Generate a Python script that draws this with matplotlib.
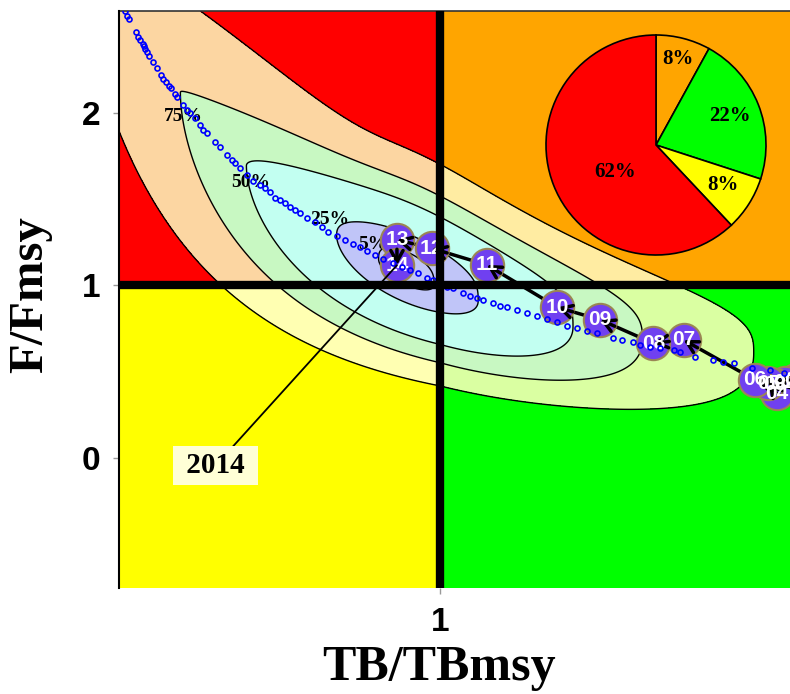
import numpy as np
import matplotlib
matplotlib.use('Agg')
import matplotlib.pyplot as plt
from matplotlib.patches import Rectangle

# ---------------- data ----------------
years = ['01', '02', '03', '04', '05', '06', '07', '08', '09', '10', '11', '12', '13', '14']
traj_b = [1.775, 1.752, 1.730, 1.734, 1.716, 1.687, 1.531, 1.465, 1.349, 1.256, 1.102, 0.982, 0.906, 0.906]
traj_f = [0.450, 0.435, 0.422, 0.374, 0.432, 0.451, 0.683, 0.664, 0.800, 0.872, 1.118, 1.214, 1.263, 1.116]

dots_b = [0.313, 0.317, 0.322, 0.337, 0.341, 0.346, 0.352, 0.355, 0.357, 0.360, 0.365, 0.374, 0.382,
          0.392, 0.396, 0.402, 0.408, 0.413, 0.422, 0.426, 0.440, 0.448, 0.455, 0.466, 0.477, 0.483,
          0.491, 0.509, 0.520, 0.535, 0.546, 0.553, 0.564, 0.579, 0.593, 0.608, 0.618, 0.629, 0.640,
          0.651, 0.662, 0.673, 0.684, 0.695, 0.709, 0.727, 0.742, 0.756, 0.775, 0.793, 0.811, 0.826,
          0.840, 0.858, 0.876, 0.898, 0.916, 0.935, 0.953, 0.971, 0.985, 1.015, 1.029, 1.051, 1.065,
          1.080, 1.094, 1.116, 1.131, 1.145, 1.167, 1.189, 1.211, 1.233, 1.254, 1.276, 1.298, 1.320,
          1.342, 1.378, 1.396, 1.421, 1.436, 1.458, 1.480, 1.509, 1.523, 1.556, 1.596, 1.618, 1.640,
          1.680, 1.720, 1.749]
dots_f = [2.588, 2.563, 2.542, 2.467, 2.438, 2.420, 2.399, 2.386, 2.370, 2.355, 2.328, 2.297, 2.262,
          2.217, 2.196, 2.181, 2.158, 2.142, 2.109, 2.092, 2.045, 2.016, 1.997, 1.968, 1.929, 1.900,
          1.881, 1.829, 1.804, 1.755, 1.726, 1.707, 1.678, 1.639, 1.605, 1.581, 1.562, 1.543, 1.508,
          1.494, 1.475, 1.456, 1.437, 1.417, 1.392, 1.365, 1.340, 1.311, 1.288, 1.263, 1.238, 1.219,
          1.199, 1.176, 1.152, 1.128, 1.108, 1.089, 1.070, 1.045, 1.031, 0.992, 0.983, 0.954, 0.938,
          0.929, 0.915, 0.896, 0.882, 0.874, 0.857, 0.838, 0.824, 0.805, 0.786, 0.766, 0.751, 0.735,
          0.722, 0.697, 0.683, 0.670, 0.654, 0.645, 0.635, 0.625, 0.612, 0.587, 0.567, 0.558, 0.548,
          0.523, 0.509, 0.490]

pie_values = [8, 22, 8, 62]
pie_labels = ['8%', '22%', '8%', '62%']

contour_labels = ['5%', '25%', '50%', '75%', '95%']
contour_radius = [0.20, 0.51, 1.177, 1.665, 2.448]

# uncertainty distribution of the final year (B/Bmsy, F/Fmsy)
b_mean, b_sd_left, b_sd_right = 0.925, 0.295, 0.31
lnf_coef = [1.556, -2.072, 0.505]        # centre line of ln(F/Fmsy) given B/Bmsy
up_scale, up_k, up_x0, up_w = 0.33, 2.6, 0.93, 0.06
up_shape, up_shape_gain, up_shape_x, up_shape_w = 0.6, 2.4, 0.85, 0.05
dn_scale, dn_k_left, dn_k_right, dn_shape = 0.355, 0.35, 0.75, 1.0

label_year = '2014'
x_ticks = [1]
y_ticks = [0, 1, 2]
xlim = (0.30, 1.763)
ylim = (-0.755, 2.59)


def softplus(v):
    return np.logaddexp(0, v)


# ---------------- figure ----------------
W, H = 790, 694
fig = plt.figure(figsize=(W / 100, H / 100), dpi=100)
ax = fig.add_axes([119 / W, 1 - 588 / H, 671 / W, 577 / H])
ax.set_xlim(*xlim)
ax.set_ylim(*ylim)

gx = np.linspace(xlim[0], xlim[1], 800)
gy = np.linspace(ylim[0], ylim[1], 800)
X, Y = np.meshgrid(gx, gy)
z = np.where(X < b_mean, (X - b_mean) / b_sd_left, (X - b_mean) / b_sd_right)
m = lnf_coef[0] + lnf_coef[1] * X + lnf_coef[2] * X ** 2
delta = np.log(np.clip(Y, 1e-3, None)) - m
s_up = up_scale * np.exp(-up_k * up_w * softplus((up_x0 - X) / up_w))
p_up = up_shape + up_shape_gain * up_shape_w * softplus((up_shape_x - X) / up_shape_w)
s_dn = dn_scale * np.exp(dn_k_left * np.minimum(X - 1.0, 0) + dn_k_right * np.maximum(X - 1.0, 0))
D = np.where(delta >= 0,
             (np.abs(delta) / s_up) ** (1 / p_up),
             (np.abs(delta) / s_dn) ** (1 / dn_shape))
dist = np.sqrt(z ** 2 + D ** 2)

lav, cyan, lgreen = '#C0C5F8', '#C2FFF1', '#C8F8C2'
quads = [
    ((xlim[0], 1, 1, ylim[1]), '#FF0000', '#FCD6A2'),
    ((1, xlim[1], 1, ylim[1]), '#FFA500', '#FFECA2'),
    ((xlim[0], 1, ylim[0], 1), '#FFFF00', '#FFFFB2'),
    ((1, xlim[1], ylim[0], 1), '#00FF00', '#DAFFA2'),
]
levels = [0] + contour_radius + [dist.max() + 1]
for (x0, x1, y0, y1), c_out, c_band in quads:
    cs = ax.contourf(X, Y, dist, levels=levels,
                     colors=[lav, lav, cyan, lgreen, c_band, c_out], zorder=1)
    rect = Rectangle((x0, y0), x1 - x0, y1 - y0, transform=ax.transData,
                     facecolor='none', edgecolor='none')
    cs.set_clip_path(rect)

cl = ax.contour(X, Y, dist, levels=contour_radius, colors='k', linewidths=1.0, zorder=2)
label_offsets = [(-4, 10), (-5, 11), (3, -12), (2, -17), (0, 0)]   # points
for i, lab in enumerate(contour_labels):
    verts = cl.get_paths()[i].vertices
    if len(verts) == 0:
        continue
    j = np.argmin(verts[:, 0])
    vx, vy = verts[j]
    if vx <= xlim[0] + 0.01 or vy >= ylim[1] - 0.01:
        continue
    ax.annotate(lab, (vx, vy), xytext=label_offsets[i], textcoords='offset points',
                ha='center', va='center', fontsize=14, fontweight='bold',
                family='Liberation Serif', zorder=3)

# trajectory
for i in range(len(years) - 1):
    ax.plot([traj_b[i], traj_b[i + 1]], [traj_f[i], traj_f[i + 1]], color='k', lw=2.5,
            solid_capstyle='butt', zorder=4)
ax.scatter(traj_b, traj_f, s=24 ** 2, c='#7040F0', edgecolors='#9A8654', linewidths=1.5, zorder=5)
pts = ax.transData.transform(np.column_stack([traj_b, traj_f]))
for i in range(len(years) - 1):
    dx, dy = pts[i + 1] - pts[i]
    L = np.hypot(dx, dy)
    if L < 1e-6:
        continue
    back = min(16.0, L)
    ax.annotate('', xy=(traj_b[i + 1], traj_f[i + 1]),
                xytext=(-back * dx / L * 0.72, -back * dy / L * 0.72), textcoords='offset points',
                arrowprops=dict(arrowstyle='->,head_length=0.4,head_width=0.22', lw=2.5, color='k',
                                shrinkA=0, shrinkB=0, mutation_scale=20), zorder=6)
for b, f, yr in zip(traj_b, traj_f, years):
    ax.text(b, f, yr, color='white', ha='center', va='center', fontsize=15, fontweight='bold',
            family='Liberation Sans', zorder=6.5, clip_on=True)

ax.plot(dots_b, dots_f, 'o', ls='none', ms=3.6, mfc='none', mec='#0000FF', mew=1.2, zorder=7)

ax.axvline(1, color='k', lw=6, zorder=8)
ax.axhline(1, color='k', lw=6, zorder=8)

ax.annotate(f' {label_year} ', xy=(traj_b[-1], traj_f[-1]), xytext=(0.5105, -0.046),
            textcoords='data', ha='center', va='center', fontsize=21, fontweight='bold',
            family='Liberation Serif',
            bbox=dict(boxstyle='square,pad=0.2', fc='#FFFFD6', ec='none'),
            arrowprops=dict(arrowstyle='-', color='k', lw=1.3, shrinkA=0, shrinkB=0), zorder=9)

# axes cosmetics
ax.set_xticks(x_ticks)
ax.set_yticks(y_ticks)
ax.tick_params(axis='both', direction='out', length=4.5, width=1, color='#999999',
               labelsize=24, pad=9)
for t in ax.get_xticklabels() + ax.get_yticklabels():
    t.set_fontweight('bold')
    t.set_family('Liberation Sans')
for s in ['right', 'bottom']:
    ax.spines[s].set_visible(False)
ax.spines['left'].set_linewidth(1.5)
ax.spines['left'].set_zorder(10)
ax.spines['top'].set_color('#333333')
ax.spines['top'].set_linewidth(1.2)

fig.text(439 / W, 1 - 668 / H, 'TB/TBmsy', ha='center', va='center', fontsize=36,
         fontweight='bold', family='Liberation Serif')
fig.text(30 / W, 1 - 295 / H, 'F/Fmsy', ha='center', va='center', rotation=90, fontsize=35,
         fontweight='bold', family='Liberation Serif')

# pie inset
pr = 110
ax2 = fig.add_axes([(656 - pr * 1.02) / W, 1 - (145 + pr * 1.02) / H, 2.04 * pr / W, 2.04 * pr / H])
wedges, _ = ax2.pie(pie_values, colors=['#FFA500', '#00FF00', '#FFFF00', '#FF0000'],
                    startangle=90, counterclock=False,
                    wedgeprops=dict(edgecolor='k', linewidth=1.2))
ax2.set_xlim(-1.02, 1.02)
ax2.set_ylim(-1.02, 1.02)
ax2.set_aspect('equal')
ax2.axis('off')
label_r = [0.81, 0.72, 0.71, 0.45]
label_dang = [0, 0, 2, 12]
for w_, lab, r, da in zip(wedges, pie_labels, label_r, label_dang):
    ang = np.deg2rad((w_.theta1 + w_.theta2) / 2 + da)
    ax2.text(r * np.cos(ang), r * np.sin(ang), lab, ha='center', va='center', fontsize=15,
             fontweight='bold', family='Liberation Serif')

fig.savefig('out.png', dpi=100)
